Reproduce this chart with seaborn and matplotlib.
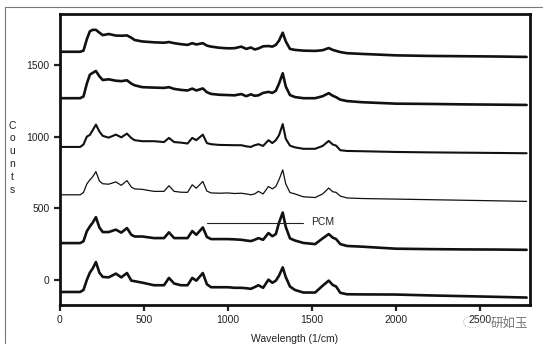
import numpy as np
import pandas as pd
import matplotlib.pyplot as plt
from matplotlib.lines import Line2D
from matplotlib.patches import Circle
import seaborn as sns

# wavenumber grid shared by all six spectra
wavelength = [10, 120, 140, 160, 178, 195, 214, 235, 255, 290, 333, 365, 399, 425, 445,
              490, 560, 620, 649, 680, 720, 760, 788, 812, 851, 875, 900, 950, 1000,
              1040, 1080, 1110, 1137, 1160, 1182, 1210, 1242, 1265, 1286, 1305, 1327,
              1345, 1370, 1400, 1450, 1520, 1565, 1601, 1625, 1645, 1670, 1710, 1800,
              2000, 2200, 2400, 2600, 2780]

spec1 = [1592, 1592, 1600, 1680, 1735, 1745, 1745, 1725, 1708, 1716, 1705, 1704, 1706, 1690, 1674,
         1664, 1658, 1655, 1660, 1652, 1645, 1640, 1652, 1643, 1652, 1635, 1628, 1620, 1616,
         1617, 1628, 1612, 1622, 1608, 1615, 1630, 1632, 1628, 1640, 1670, 1725,
         1665, 1612, 1605, 1600, 1598, 1603, 1618, 1605, 1598, 1590, 1582, 1577,
         1567, 1563, 1561, 1559, 1556]
spec2 = [1268, 1268, 1280, 1370, 1432, 1445, 1458, 1420, 1395, 1400, 1390, 1387, 1393, 1370, 1358,
         1345, 1342, 1340, 1345, 1333, 1326, 1322, 1335, 1322, 1336, 1310, 1298, 1292, 1290,
         1288, 1297, 1282, 1295, 1285, 1288, 1305, 1312, 1305, 1320, 1370, 1442,
         1350, 1290, 1276, 1268, 1268, 1282, 1303, 1285, 1275, 1258, 1248, 1240,
         1230, 1228, 1225, 1223, 1221]
spec3 = [928, 928, 945, 1000, 1012, 1045, 1084, 1035, 1005, 993, 1014, 995, 1021, 990, 975,
         968, 968, 962, 991, 962, 958, 952, 991, 975, 1014, 955, 947, 942, 941,
         940, 940, 932, 928, 940, 947, 935, 975, 955, 975, 1010, 1087,
         985, 937, 925, 915, 915, 935, 970, 945, 937, 905, 900, 898,
         893, 890, 888, 886, 884]
spec4 = [594, 594, 610, 670, 698, 720, 756, 690, 671, 668, 684, 660, 693, 648, 635,
         632, 618, 618, 657, 618, 612, 611, 664, 640, 687, 620, 607, 605, 607,
         603, 605, 600, 594, 600, 618, 600, 652, 635, 652, 700, 768,
         670, 610, 600, 580, 575, 600, 641, 615, 611, 585, 572, 568,
         564, 560, 556, 552, 548]
spec5 = [257, 257, 270, 340, 373, 400, 438, 365, 334, 334, 351, 330, 362, 315, 303,
         303, 292, 292, 332, 292, 292, 292, 341, 315, 366, 300, 285, 285, 285,
         283, 280, 275, 271, 280, 292, 280, 327, 305, 320, 400, 470,
         370, 290, 275, 258, 250, 290, 320, 295, 285, 250, 237, 232,
         218, 215, 213, 212, 210]
spec6 = [-84, -84, -70, 0, 51, 80, 125, 50, 21, 18, 44, 18, 48, -5, -9,
         -19, -37, -37, 14, -25, -37, -37, 14, -5, 48, -30, -51, -51, -51,
         -55, -55, -58, -62, -50, -37, -55, 2, -20, -5, 30, 88,
         20, -46, -70, -88, -88, -40, -5, -35, -46, -90, -100, -101,
         -102, -108, -113, -118, -123]

spectra = [spec1, spec2, spec3, spec4, spec5, spec6]
widths = [1.9, 1.9, 1.5, 0.9, 1.9, 1.9]

xticks = [0, 500, 1000, 1500, 2000, 2500]
yticks = [0, 500, 1000, 1500]

sns.set_style('ticks')
plt.rcParams['font.family'] = ['Liberation Sans', 'Noto Sans CJK SC', 'DejaVu Sans']

fig = plt.figure(figsize=(5.57, 3.52), dpi=100)
ax = fig.add_axes([0.1077, 0.1335, 0.8438, 0.8265])

for i, s in enumerate(spectra):
    df = pd.DataFrame({'Wavelength': wavelength, 'Counts': s})
    sns.lineplot(data=df, x='Wavelength', y='Counts', ax=ax, color='#111111',
                 linewidth=widths[i], estimator=None, sort=False)

# PCM label
ax.plot([877, 1447], [395, 395], color='#222222', linewidth=0.8)
ax.text(1494, 402, 'PCM', fontsize=7.5, va='center', ha='left', color='#222222')

ax.set_xlim(0, 2800)
ax.set_ylim(-175, 1855)
ax.set_xticks(xticks)
ax.set_yticks(yticks)
ax.tick_params(direction='out', length=4, width=1.6, labelsize=7.5, colors='#222222')
for sp in ax.spines.values():
    sp.set_linewidth(2.0)
    sp.set_color('#111111')
ax.set_xlabel('Wavelength (1/cm)', fontsize=7.5, color='#222222', labelpad=6)
ax.set_ylabel('')
fig.text(0.022, 0.552, '\n'.join('Counts'), fontsize=7.5, ha='center', va='center',
         linespacing=1.35, color='#222222')

# outer frame lines of the original figure
fig.add_artist(Line2D([0.009, 0.009], [0.025, 0.98], color='#777777', linewidth=0.8))
fig.add_artist(Line2D([0.009, 0.973], [0.98, 0.98], color='#777777', linewidth=0.8))

# watermark
fig.add_artist(Circle((0.848, 0.085), 0.016, transform=fig.transFigure, fill=False,
                      edgecolor='#aaaaaa', linewidth=0.7, linestyle=':'))
fig.text(0.88, 0.082, '研如玉', fontsize=9, color='#777777', ha='left', va='center',
         family=['Noto Sans CJK SC', 'DejaVu Sans'])

fig.savefig('out.png', dpi=100)
